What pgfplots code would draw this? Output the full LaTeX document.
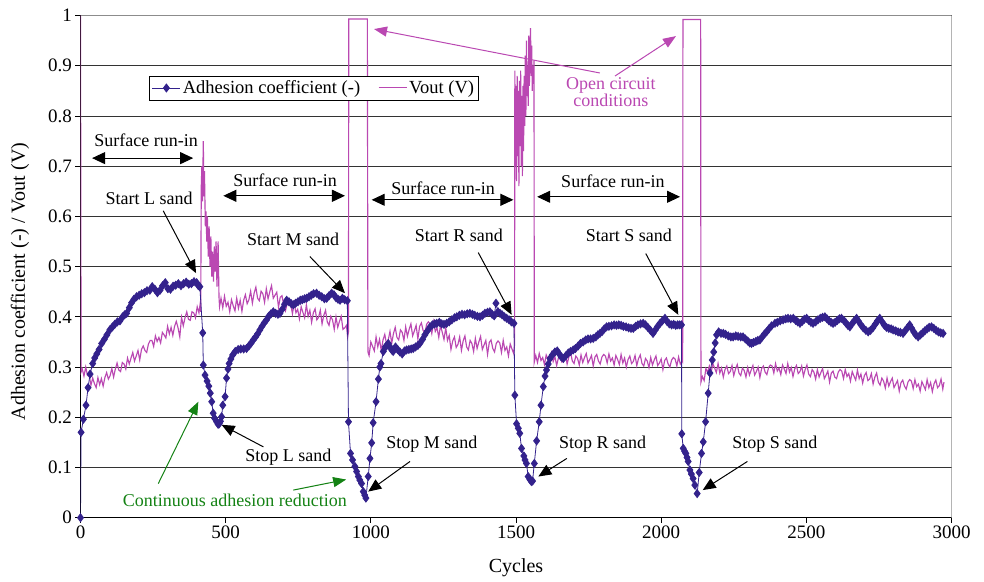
\documentclass[border=0pt]{standalone}
\usepackage{fontspec}
\setmainfont{Liberation Serif}
\usepackage{pgfplots}
\usepackage{pgfplotstable}
\pgfplotsset{compat=1.18}
\usetikzlibrary{arrows.meta}
\definecolor{adh}{RGB}{51,34,140}
\definecolor{vout}{RGB}{186,72,178}
\definecolor{grn}{RGB}{20,130,20}

\pgfplotstableread{
x y
0 0
2 0.17
10 0.196
19 0.224
26 0.259
33 0.286
42 0.307
49 0.318
56 0.326
64 0.335
73 0.347
82 0.355
91 0.364
101 0.374
110 0.38
118 0.385
127 0.39
136 0.392
145 0.40
152 0.404
159 0.407
168 0.418
176 0.428
184 0.435
193 0.44
202 0.443
211 0.446
220 0.448
229 0.452
239 0.453
247 0.46
256 0.455
265 0.448
274 0.453
283 0.462
292 0.468
301 0.456
310 0.455
319 0.461
328 0.463
337 0.466
346 0.462
355 0.466
364 0.469
373 0.465
382 0.466
391 0.47
400 0.468
406 0.462
411 0.46
421 0.368
423 0.304
429 0.284
436 0.272
442 0.262
447 0.248
452 0.231
457 0.208
462 0.198
469 0.191
474 0.186
478 0.187
482 0.192
486 0.201
490 0.224
498 0.241
503 0.278
508 0.296
512 0.307
518 0.316
524 0.324
533 0.331
543 0.335
552 0.336
562 0.336
572 0.337
580 0.342
588 0.348
595 0.354
603 0.36
610 0.366
618 0.374
625 0.381
633 0.388
641 0.394
648 0.401
656 0.406
664 0.41
672 0.407
680 0.405
687 0.407
695 0.415
703 0.425
710 0.433
718 0.43
726 0.426
733 0.424
741 0.427
749 0.43
757 0.433
764 0.434
772 0.436
779 0.437
787 0.44
795 0.443
803 0.446
813 0.447
822 0.443
831 0.44
840 0.436
848 0.437
856 0.442
865 0.447
873 0.444
880 0.438
887 0.435
894 0.433
902 0.437
910 0.434
919 0.432
923 0.191
930 0.128
937 0.115
945 0.102
951 0.092
957 0.082
962 0.075
968 0.068
974 0.052
979 0.045
983 0.039
991 0.082
997 0.118
1003 0.149
1008 0.189
1018 0.231
1026 0.276
1031 0.30
1035 0.307
1043 0.331
1050 0.34
1054 0.342
1060 0.347
1066 0.34
1072 0.334
1077 0.331
1085 0.34
1092 0.335
1100 0.33
1108 0.326
1116 0.332
1123 0.334
1131 0.335
1139 0.336
1146 0.337
1154 0.34
1162 0.343
1169 0.347
1178 0.355
1186 0.364
1195 0.372
1204 0.38
1212 0.384
1220 0.386
1227 0.387
1236 0.389
1244 0.386
1252 0.385
1261 0.387
1270 0.39
1279 0.394
1288 0.398
1296 0.40
1305 0.403
1314 0.405
1323 0.404
1332 0.406
1341 0.407
1350 0.405
1358 0.403
1367 0.401
1376 0.40
1385 0.403
1393 0.407
1402 0.409
1410 0.41
1418 0.405
1425 0.402
1431 0.427
1438 0.41
1445 0.407
1452 0.404
1460 0.4
1468 0.397
1476 0.394
1484 0.39
1493 0.387
1496 0.244
1502 0.187
1508 0.178
1513 0.168
1519 0.138
1527 0.123
1531 0.115
1536 0.108
1542 0.082
1548 0.076
1553 0.072
1557 0.073
1563 0.108
1571 0.153
1580 0.191
1586 0.224
1594 0.261
1600 0.282
1605 0.294
1611 0.306
1617 0.317
1625 0.324
1634 0.33
1642 0.332
1649 0.326
1656 0.32
1663 0.317
1671 0.322
1680 0.328
1688 0.331
1697 0.334
1705 0.337
1714 0.342
1722 0.347
1731 0.35
1740 0.354
1748 0.356
1757 0.356
1766 0.357
1775 0.36
1782 0.364
1789 0.367
1797 0.371
1804 0.376
1812 0.38
1820 0.381
1829 0.382
1838 0.384
1846 0.383
1854 0.384
1862 0.383
1870 0.381
1879 0.38
1888 0.378
1896 0.377
1904 0.377
1912 0.381
1920 0.384
1929 0.386
1938 0.387
1946 0.384
1954 0.379
1963 0.373
1972 0.367
1980 0.374
1988 0.381
1996 0.387
2004 0.392
2013 0.397
2020 0.391
2028 0.386
2036 0.384
2043 0.385
2050 0.383
2057 0.384
2064 0.384
2070 0.384
2071 0.167
2076 0.138
2081 0.132
2085 0.128
2089 0.12
2093 0.112
2099 0.095
2104 0.087
2110 0.078
2116 0.065
2124 0.048
2131 0.09
2139 0.128
2145 0.151
2153 0.191
2162 0.248
2168 0.288
2176 0.314
2181 0.33
2186 0.348
2191 0.364
2198 0.37
2206 0.367
2214 0.367
2222 0.365
2231 0.362
2240 0.36
2248 0.36
2257 0.362
2265 0.361
2274 0.36
2282 0.36
2290 0.356
2298 0.352
2305 0.348
2311 0.347
2318 0.349
2326 0.351
2333 0.353
2340 0.354
2348 0.36
2356 0.366
2363 0.37
2371 0.376
2380 0.382
2392 0.387
2400 0.389
2410 0.392
2420 0.394
2429 0.396
2437 0.397
2446 0.396
2455 0.397
2463 0.393
2470 0.39
2478 0.387
2486 0.391
2493 0.395
2501 0.397
2508 0.393
2516 0.389
2523 0.387
2532 0.39
2540 0.394
2548 0.397
2556 0.399
2564 0.40
2571 0.396
2578 0.392
2585 0.389
2592 0.387
2599 0.389
2607 0.393
2614 0.396
2621 0.397
2629 0.393
2636 0.388
2643 0.383
2650 0.38
2657 0.386
2665 0.392
2673 0.397
2680 0.391
2688 0.384
2696 0.378
2705 0.373
2713 0.37
2721 0.373
2729 0.378
2737 0.385
2745 0.392
2753 0.397
2761 0.39
2769 0.383
2776 0.379
2784 0.377
2792 0.376
2799 0.374
2808 0.372
2816 0.37
2824 0.369
2833 0.367
2840 0.372
2848 0.378
2856 0.384
2863 0.377
2870 0.37
2877 0.364
2885 0.36
2893 0.364
2901 0.368
2908 0.372
2916 0.376
2923 0.379
2931 0.38
2939 0.377
2947 0.373
2955 0.37
2963 0.368
2971 0.367
}\adhdata

\pgfplotstableread{
x y
0 1.0
2 0.29
6 0.296
12 0.282
18 0.300
24 0.283
30 0.283
36 0.264
42 0.278
48 0.267
54 0.259
60 0.279
66 0.265
72 0.277
78 0.262
84 0.279
90 0.289
96 0.276
102 0.283
108 0.297
114 0.280
120 0.296
126 0.308
132 0.294
138 0.291
144 0.309
150 0.306
156 0.296
162 0.318
168 0.306
174 0.318
180 0.329
186 0.312
192 0.322
198 0.333
204 0.314
210 0.335
216 0.342
222 0.333
228 0.329
234 0.346
240 0.353
246 0.353
252 0.341
258 0.362
264 0.351
270 0.359
276 0.348
282 0.369
288 0.364
294 0.358
300 0.381
306 0.366
312 0.379
318 0.363
324 0.381
330 0.391
336 0.378
342 0.360
348 0.399
354 0.382
360 0.398
366 0.410
372 0.395
378 0.393
384 0.410
390 0.408
396 0.398
402 0.420
408 0.408
412 0.425
414 0.41
416 0.66
418 0.70
420 0.63
423 0.75
425 0.64
427 0.69
430 0.58
432 0.61
435 0.55
437 0.60
440 0.52
443 0.58
446 0.50
449 0.56
452 0.48
455 0.53
458 0.47
461 0.54
464 0.49
467 0.55
470 0.46
474 0.55
477 0.44
479 0.42
484 0.437
490 0.418
496 0.441
502 0.421
508 0.429
514 0.410
520 0.434
526 0.422
532 0.412
538 0.437
544 0.417
550 0.433
556 0.411
562 0.433
568 0.444
574 0.426
580 0.434
586 0.451
592 0.427
598 0.447
604 0.459
610 0.437
616 0.432
622 0.451
628 0.446
634 0.429
640 0.456
646 0.436
652 0.450
658 0.462
664 0.437
670 0.443
676 0.449
682 0.419
688 0.439
694 0.442
700 0.423
706 0.412
712 0.427
718 0.432
724 0.426
730 0.406
736 0.428
742 0.408
748 0.415
754 0.396
760 0.420
766 0.409
772 0.398
778 0.424
784 0.401
790 0.413
796 0.389
802 0.408
808 0.416
814 0.394
820 0.399
826 0.413
832 0.386
838 0.403
844 0.413
850 0.390
856 0.383
862 0.401
868 0.394
874 0.375
880 0.400
886 0.379
892 0.391
898 0.401
904 0.375
910 0.378
916 0.383
920 0.360
923 0.37
924 0.993
988 0.993
990 0.33
994 0.323
1000 0.350
1006 0.341
1012 0.332
1018 0.360
1024 0.340
1030 0.355
1036 0.332
1042 0.354
1048 0.365
1054 0.346
1060 0.354
1066 0.371
1072 0.347
1078 0.367
1084 0.379
1090 0.359
1096 0.354
1102 0.374
1108 0.369
1114 0.353
1120 0.380
1126 0.361
1132 0.375
1138 0.386
1144 0.362
1150 0.372
1156 0.383
1162 0.356
1168 0.381
1174 0.388
1180 0.373
1186 0.366
1192 0.385
1198 0.390
1204 0.386
1210 0.367
1216 0.390
1222 0.371
1228 0.378
1234 0.359
1240 0.383
1246 0.369
1252 0.355
1258 0.378
1264 0.353
1270 0.363
1276 0.335
1282 0.352
1288 0.360
1294 0.339
1300 0.345
1306 0.360
1312 0.333
1318 0.352
1324 0.362
1330 0.340
1336 0.334
1342 0.353
1348 0.347
1354 0.331
1360 0.357
1366 0.337
1372 0.350
1378 0.361
1384 0.335
1390 0.344
1396 0.353
1402 0.325
1408 0.349
1414 0.354
1420 0.337
1426 0.330
1432 0.347
1438 0.352
1444 0.348
1450 0.329
1456 0.353
1462 0.333
1468 0.340
1474 0.322
1480 0.346
1486 0.336
1492 0.327
1495 0.345
1496 0.89
1498 0.70
1500 0.86
1502 0.67
1504 0.88
1506 0.72
1508 0.85
1510 0.66
1512 0.87
1514 0.74
1516 0.89
1518 0.70
1520 0.84
1522 0.68
1524 0.86
1526 0.73
1528 0.88
1530 0.78
1532 0.92
1534 0.80
1536 0.95
1538 0.84
1540 0.90
1542 0.82
1544 0.96
1546 0.86
1548 0.92
1550 0.975
1552 0.88
1554 0.94
1556 0.85
1558 0.90
1560 0.87
1562 0.91
1563 0.31
1568 0.323
1574 0.309
1580 0.327
1586 0.313
1592 0.319
1598 0.305
1604 0.324
1610 0.316
1616 0.308
1622 0.328
1628 0.311
1634 0.321
1640 0.303
1646 0.318
1652 0.325
1658 0.310
1664 0.314
1670 0.326
1676 0.306
1682 0.320
1688 0.329
1694 0.312
1700 0.307
1706 0.322
1712 0.317
1718 0.304
1724 0.324
1730 0.309
1736 0.319
1742 0.327
1748 0.308
1754 0.315
1760 0.323
1766 0.302
1772 0.320
1778 0.325
1784 0.312
1790 0.306
1796 0.320
1802 0.325
1808 0.322
1814 0.308
1820 0.326
1826 0.312
1832 0.318
1838 0.304
1844 0.323
1850 0.315
1856 0.305
1862 0.325
1868 0.308
1874 0.318
1880 0.300
1886 0.315
1892 0.322
1898 0.307
1904 0.311
1910 0.323
1916 0.303
1922 0.317
1928 0.324
1934 0.307
1940 0.302
1946 0.317
1952 0.312
1958 0.299
1964 0.319
1970 0.304
1976 0.314
1982 0.322
1988 0.303
1994 0.308
2000 0.316
2006 0.295
2012 0.313
2018 0.318
2024 0.306
2030 0.300
2036 0.314
2042 0.319
2048 0.316
2054 0.302
2060 0.320
2066 0.306
2072 0.312
2074 0.31
2075 0.992
2136 0.992
2137 0.27
2142 0.281
2148 0.273
2154 0.297
2160 0.290
2166 0.302
2172 0.289
2178 0.307
2184 0.298
2190 0.289
2196 0.307
2202 0.288
2208 0.298
2214 0.280
2220 0.295
2226 0.302
2232 0.287
2238 0.291
2244 0.303
2250 0.283
2256 0.296
2262 0.305
2268 0.288
2274 0.283
2280 0.298
2286 0.293
2292 0.280
2298 0.299
2304 0.284
2310 0.294
2316 0.303
2322 0.284
2328 0.291
2334 0.300
2340 0.279
2346 0.297
2352 0.302
2358 0.290
2364 0.285
2370 0.299
2376 0.304
2382 0.302
2388 0.288
2394 0.307
2400 0.292
2406 0.298
2412 0.285
2418 0.304
2424 0.296
2430 0.287
2436 0.307
2442 0.290
2448 0.299
2454 0.281
2460 0.296
2466 0.303
2472 0.287
2478 0.291
2484 0.302
2490 0.282
2496 0.295
2502 0.304
2508 0.286
2514 0.281
2520 0.295
2526 0.290
2532 0.276
2538 0.295
2544 0.280
2550 0.289
2556 0.297
2562 0.277
2568 0.284
2574 0.292
2580 0.270
2586 0.288
2592 0.292
2598 0.280
2604 0.277
2610 0.290
2616 0.295
2622 0.292
2628 0.277
2634 0.295
2640 0.281
2646 0.287
2652 0.272
2658 0.291
2664 0.282
2670 0.274
2676 0.294
2682 0.277
2688 0.286
2694 0.268
2700 0.283
2706 0.289
2712 0.273
2718 0.276
2724 0.287
2730 0.266
2736 0.280
2742 0.288
2748 0.270
2754 0.264
2760 0.278
2766 0.272
2772 0.258
2778 0.278
2784 0.262
2790 0.271
2796 0.278
2802 0.259
2808 0.266
2814 0.273
2820 0.252
2826 0.269
2832 0.274
2838 0.262
2844 0.256
2850 0.270
2856 0.275
2862 0.272
2868 0.257
2874 0.275
2880 0.261
2886 0.266
2892 0.252
2898 0.271
2904 0.263
2910 0.255
2916 0.275
2922 0.259
2928 0.269
2934 0.251
2940 0.267
2946 0.274
2952 0.259
2958 0.263
2964 0.276
2970 0.256
2974 0.27
}\voutdata

\begin{document}
\begin{tikzpicture}
\begin{axis}[
  scale only axis, width=871pt, height=502.2pt,
  xmin=0, xmax=3000, ymin=0, ymax=1,
  axis x line*=bottom, axis y line*=left,
  xtick={0,500,1000,1500,2000,2500,3000},
  ytick={0,0.1,0.2,0.3,0.4,0.5,0.6,0.7,0.8,0.9,1},
  ymajorgrids, grid style={black!80, line width=0.8pt},
  tick align=outside, major tick length=5pt,
  tick style={black, line width=0.8pt},
  axis line style={black, line width=0.8pt},
  /pgf/number format/assume math mode=true,
  /pgf/number format/1000 sep={},
  ticklabel style={font=\fontsize{19}{21}\selectfont},
  xlabel={Cycles},
  ylabel={Adhesion coefficient (-) / Vout (V)},
  label style={font=\fontsize{20}{22}\selectfont},
  xlabel style={at={(axis description cs:0.5,-0.0996)}, anchor=center},
  ylabel style={at={(axis description cs:-0.0695,0.47)}, anchor=center},
  legend columns=2,
  legend style={at={(0.079,0.8795)}, anchor=north west, draw=black,
    font=\fontsize{18.5}{20}\selectfont, inner sep=2.5pt,
    /tikz/every even column/.append style={column sep=16pt}},
  legend cell align=left,
  legend image code/.code={\draw[mark repeat=2,mark phase=2] plot coordinates {(0pt,0pt)(14pt,0pt)(28pt,0pt)};},
]
\addlegendimage{color=adh, line width=0.8pt, mark=diamond*, mark size=4pt, mark options={solid, fill=adh}}
\addlegendentry{Adhesion coefficient (-)}
\addlegendimage{color=vout, line width=1pt}
\addlegendentry{Vout (V)}

\addplot[forget plot, color=vout, line width=1.15pt] table {\voutdata};
\addplot[forget plot, color=adh, line width=0.8pt, mark=diamond*, mark size=4pt, mark options={solid, fill=adh}] table {\adhdata};

% gray top/right frame
\draw[black!45, line width=0.8pt] (rel axis cs:0,1) -- (rel axis cs:1,1) -- (rel axis cs:1,0);

\tikzset{ann/.style={font=\fontsize{18}{20}\selectfont, inner sep=0pt},
  blk/.style={black, line width=1pt, -{Triangle[length=13pt,width=11pt]}},
  dbl/.style={black, line width=1pt, {Triangle[length=13pt,width=12pt]}-{Triangle[length=13pt,width=12pt]}}}

% surface run-in
\node[ann] at (axis cs:226,0.752) {Surface run-in};
\draw[dbl] (axis cs:40,0.716) -- (axis cs:388,0.716);
\node[ann] at (axis cs:705,0.672) {Surface run-in};
\draw[dbl] (axis cs:492,0.641) -- (axis cs:911,0.641);
\node[ann] at (axis cs:1249,0.656) {Surface run-in};
\draw[dbl] (axis cs:1003,0.633) -- (axis cs:1491,0.633);
\node[ann] at (axis cs:1834,0.669) {Surface run-in};
\draw[dbl] (axis cs:1573,0.639) -- (axis cs:2065,0.639);

% start
\node[ann] at (axis cs:236,0.635) {Start L sand};
\draw[blk] (axis cs:285,0.611) -- (axis cs:398,0.487);
\node[ann] at (axis cs:732,0.555) {Start M sand};
\draw[blk] (axis cs:790,0.52) -- (axis cs:911,0.447);
\node[ann] at (axis cs:1303,0.563) {Start R sand};
\draw[blk] (axis cs:1370,0.528) -- (axis cs:1485,0.404);
\node[ann] at (axis cs:1889,0.562) {Start S sand};
\draw[blk] (axis cs:1947,0.526) -- (axis cs:2059,0.404);

% stop
\node[ann] at (axis cs:716,0.121) {Stop L sand};
\draw[blk] (axis cs:630,0.141) -- (axis cs:486,0.185);
\node[ann] at (axis cs:1210,0.147) {Stop M sand};
\draw[blk] (axis cs:1135,0.112) -- (axis cs:991,0.052);
\node[ann] at (axis cs:1798,0.147) {Stop R sand};
\draw[blk] (axis cs:1675,0.118) -- (axis cs:1577,0.082);
\node[ann] at (axis cs:2392,0.147) {Stop S sand};
\draw[blk] (axis cs:2297,0.112) -- (axis cs:2143,0.055);

% continuous
\node[ann, text=grn] at (axis cs:532,0.035) {Continuous adhesion reduction};
\draw[grn, line width=1pt, -{Triangle[length=13pt,width=10pt]}] (axis cs:268,0.068) -- (axis cs:406,0.231);
\draw[grn, line width=1pt, -{Triangle[length=13pt,width=10pt]}] (axis cs:733,0.055) -- (axis cs:915,0.076);

% open circuit
\node[ann, text=vout, align=center, font=\fontsize{18}{14.5}\selectfont] at (axis cs:1827,0.848) {Open circuit\\conditions};
\draw[vout, line width=1pt, -{Triangle[length=13pt,width=10pt]}] (axis cs:1789,0.8855) -- (axis cs:1011,0.973);
\draw[vout, line width=1pt, -{Triangle[length=13pt,width=10pt]}] (axis cs:1841,0.8795) -- (axis cs:2051,0.959);
\end{axis}
\pgfresetboundingbox
\useasboundingbox (-80.5pt,-63.3pt) rectangle (903.5pt,517.7pt);
\end{tikzpicture}
\end{document}
